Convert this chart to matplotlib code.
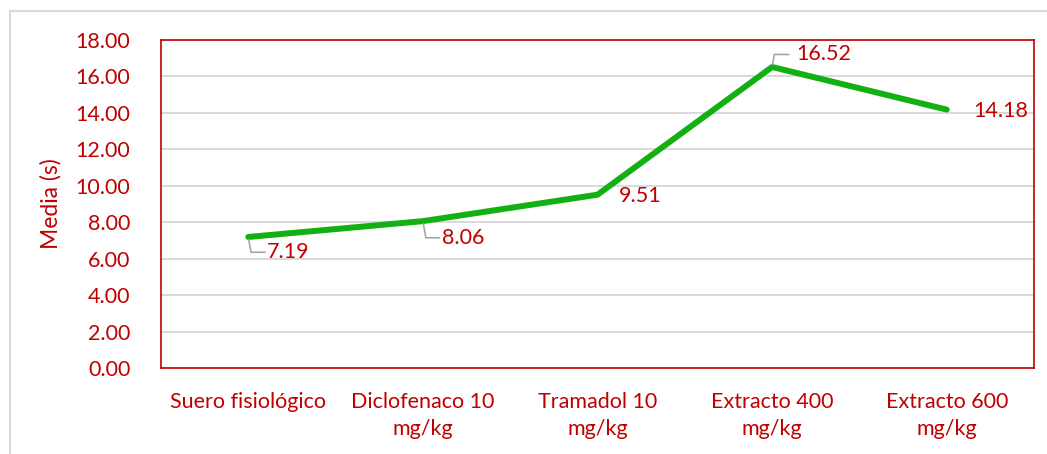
import matplotlib.pyplot as plt
from matplotlib.patches import Rectangle

plt.rcParams['font.family'] = ['Lato', 'DejaVu Sans']

# datos
grupos = ['Suero fisiológico', 'Diclofenaco 10\nmg/kg', 'Tramadol 10\nmg/kg',
          'Extracto 400\nmg/kg', 'Extracto 600\nmg/kg']
medias = [7.19, 8.06, 9.51, 16.52, 14.18]
yticks = [0, 2, 4, 6, 8, 10, 12, 14, 16, 18]

rojo = '#C00000'
verde = '#12B012'
gris = '#A6A6A6'

fig = plt.figure(figsize=(10.47, 4.54), dpi=100)
ax = fig.add_axes([161 / 1047, 1 - 368 / 454, (1034 - 161) / 1047, (368 - 40) / 454])

# marco exterior
fig.patches.append(Rectangle((10 / 1047, -0.05), 1.1, 1 - 11 / 454 + 0.05,
                             transform=fig.transFigure, fill=False,
                             edgecolor='#D9D9D9', linewidth=1.5))

x = list(range(len(grupos)))
ax.plot(x, medias, color=verde, linewidth=4.3, solid_capstyle='round', zorder=3)

ax.set_xlim(-0.5, len(grupos) - 0.5)
ax.set_ylim(0, 18)
ax.set_yticks(yticks)
ax.set_yticklabels([f'{v:.2f}' for v in yticks])
ax.set_xticks(x)
ax.set_xticklabels(grupos, linespacing=1.45)
ax.tick_params(length=0, colors=rojo, labelsize=15.5)
ax.tick_params(axis='y', pad=22)
ax.tick_params(axis='x', pad=17)
ax.grid(axis='y', color='#D9D9D9', linewidth=1.4)
ax.set_axisbelow(True)
for s in ax.spines.values():
    s.set_color(rojo)
    s.set_linewidth(1.2)

ax.set_ylabel('Media (s)', color=rojo, fontsize=16.5, labelpad=10)

# etiquetas de datos (desplazamiento en puntos)
offsets = [(29, -11), (29, -12), (31, -1), (37, 9), (39, -1)]
lideres = [True, True, False, True, False]
for xi, yi, (dx, dy), lid in zip(x, medias, offsets, lideres):
    ax.annotate(f'{yi:.2f}', (xi, yi), xytext=(dx, dy), textcoords='offset points',
                color=rojo, fontsize=15.5, ha='center', va='center')
    if lid:
        sgn = 1 if dy > 0 else -1
        ax.annotate('', (xi, yi), xytext=(12, dy), textcoords='offset points',
                    arrowprops=dict(arrowstyle='-', color=gris, linewidth=1.2,
                                    connectionstyle='angle,angleA=0,angleB=%d,rad=0' % (80 if sgn > 0 else -80),
                                    shrinkA=0, shrinkB=2))

fig.savefig('out.png', dpi=100)
